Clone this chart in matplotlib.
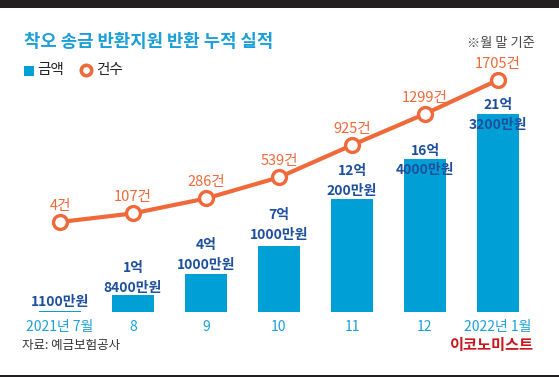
import matplotlib.pyplot as plt
from matplotlib.patches import Rectangle
from matplotlib.lines import Line2D

plt.rcParams['font.family'] = ['Noto Sans CJK KR', 'DejaVu Sans']

# data
months = ['2021년 7월', '8', '9', '10', '11', '12', '2022년 1월']
amount = [1100, 18400, 41000, 71000, 122000, 164000, 213200]   # 만원
amount_labels = ['1100만원', '1억\n8400만원', '4억\n1000만원', '7억\n1000만원',
                 '12억\n200만원', '16억\n4000만원', '21억\n3200만원']
cases = [4, 107, 286, 539, 925, 1299, 1705]

BLUE = '#00a0d6'
DARK_BLUE = '#1d4f9c'
ORANGE = '#f0693a'

W, H = 559, 377
fig = plt.figure(figsize=(W / 100, H / 100), dpi=100)
fig.patch.set_facecolor('white')

# plot area in pixels (left, bottom, width, height)
ax = fig.add_axes([0, 65 / H, 1, 300 / H])
ax.set_xlim(-60 / 73, (W - 60) / 73)
ax.set_ylim(0, 300 / 0.00093)
x = list(range(len(months)))
ax.bar(x, amount, width=0.575, color=BLUE, zorder=2)
for s in ax.spines.values():
    s.set_visible(False)
ax.set_yticks([])
ax.set_xticks(x)
ax.set_xticklabels(months, color='#1a9fd8', fontsize=10)
ax.tick_params(axis='x', length=0, pad=6)

# amount labels, px offset from bar top (last two overlap the bars)
lab_off = [12, 10, 12, 14, 11, -8, -8]
for i, (v, t) in enumerate(zip(amount, amount_labels)):
    ax.annotate(t, (i, v), xytext=(0, lab_off[i] - 10), textcoords='offset pixels',
                ha='center', va='bottom', color=DARK_BLUE, fontsize=10,
                fontweight='bold', linespacing=1.5, zorder=5)

ax2 = ax.twinx()
ax2.set_ylim(4 - 90 / 0.0835, 4 - 90 / 0.0835 + 300 / 0.0835)
ax2.set_xlim(ax.get_xlim())
ax2.axis('off')
ax2.plot(x, cases, color=ORANGE, lw=3, marker='o', ms=10, mfc='white',
         mec=ORANGE, mew=2.4, zorder=3)
for i, c in enumerate(cases):
    ax2.annotate(f'{c}건', (i, c), xytext=(0, 16), textcoords='offset pixels',
                 ha='center', va='center', color=ORANGE, fontsize=10.5)

# frame bands
fig.add_artist(Rectangle((0, 1 - 8 / H), 1, 8 / H, transform=fig.transFigure,
                         color='#231f20', lw=0))
fig.add_artist(Rectangle((0, 0), 1, 2.5 / H, transform=fig.transFigure,
                         color='#231f20', lw=0))

# title, note, legend
fig.text(24 / W, 1 - 42 / H, '착오 송금 반환지원 반환 누적 실적', color='#1a9fd8',
         fontsize=12.8, fontweight='bold', va='center', ha='left')
fig.text(535 / W, 1 - 44 / H, '※월 말 기준', color='#444444', fontsize=9.5,
         va='center', ha='right')
fig.add_artist(Rectangle((24 / W, 1 - 76 / H), 10 / W, 10 / H, transform=fig.transFigure,
                         color=BLUE, lw=0))
fig.text(37 / W, 1 - 70 / H, '금액', color='#222222', fontsize=10.5, va='center')
fig.add_artist(Line2D([86 / W], [1 - 70 / H], transform=fig.transFigure, marker='o',
                      ms=7.5, mfc='white', mec=ORANGE, mew=2.6))
fig.text(96 / W, 1 - 70 / H, '건수', color='#222222', fontsize=10.5, va='center')

# source and logo
fig.text(22 / W, 1 - 345 / H, '자료: 예금보험공사', color='#333333', fontsize=9,
         va='center')
fig.text(534 / W, 1 - 345 / H, '이코노미스트', color='#c8161d', fontsize=11,
         fontweight='bold', va='center', ha='right')

fig.savefig('out.png', dpi=100)
